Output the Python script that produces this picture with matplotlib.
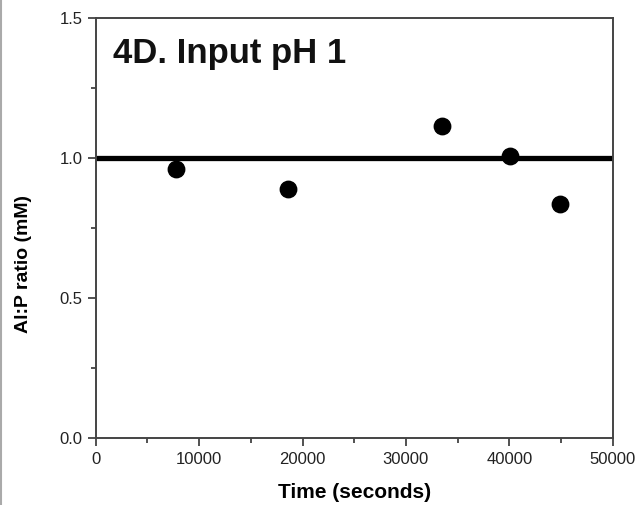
import matplotlib.pyplot as plt
from matplotlib.ticker import MultipleLocator
from matplotlib.lines import Line2D

plt.rcParams['font.family'] = ['Liberation Sans', 'DejaVu Sans']

# data
time_s = [7800, 18600, 33500, 40100, 44900]
ratio = [0.962, 0.891, 1.115, 1.008, 0.837]
ref_x = [0, 50000]
ref_y = [1.0, 1.0]

fig = plt.figure(figsize=(6.39, 5.05), dpi=100)
ax = fig.add_axes([0.1498, 0.132, 0.8090, 0.832])

ax.plot(ref_x, ref_y, color='black', linewidth=3.8, zorder=2)
ax.scatter(time_s, ratio, s=140, color='black', zorder=3)

ax.set_xlim(0, 50000)
ax.set_ylim(0, 1.5)
ax.xaxis.set_major_locator(MultipleLocator(10000))
ax.xaxis.set_minor_locator(MultipleLocator(5000))
ax.yaxis.set_major_locator(MultipleLocator(0.5))
ax.yaxis.set_minor_locator(MultipleLocator(0.25))
ax.yaxis.set_major_formatter(plt.FormatStrFormatter('%.1f'))

ax.tick_params(which='major', direction='out', length=6, width=1.2, colors='#333333',
               labelsize=12, labelcolor='#222222')
ax.tick_params(which='minor', direction='out', length=3.6, width=1.2, colors='#333333')
for sp in ax.spines.values():
    sp.set_linewidth(1.4)
    sp.set_color('#444444')

ax.set_xlabel('Time (seconds)', fontsize=15, fontweight='bold', labelpad=12)
ax.set_ylabel('Al:P ratio (mM)', fontsize=14, fontweight='bold')
ax.yaxis.set_label_coords(-0.123, 0.415)
ax.text(0.033, 0.955, '4D. Input pH 1', transform=ax.transAxes, fontsize=25,
        fontweight='bold', va='top', ha='left', color='#111111')

# thin gray frame on the left edge of the image
fig.add_artist(Line2D([0.002, 0.002], [0, 1], transform=fig.transFigure,
                      color='#aaaaaa', linewidth=1.5))

fig.savefig('out.png', dpi=100)
